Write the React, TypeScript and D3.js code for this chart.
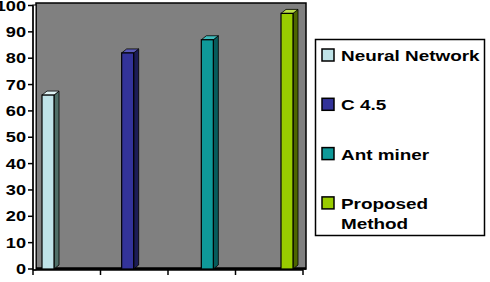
import * as d3 from 'd3';

const series = ['Neural Network', 'C 4.5', 'Ant miner', 'Proposed Method'];
const values = [66, 82, 87, 97];
const fronts = ['#bfe3e8', '#333399', '#0f9999', '#99cc00'];
const sides = ['#4f6f68', '#1c1c55', '#065c5c', '#4d6600'];
const tops = ['#dff3f5', '#5a5ab8', '#3fbcbc', '#bde04a'];
const legendLines = [['Neural Network'], ['C 4.5'], ['Ant miner'], ['Proposed', 'Method']];
const yTicks = [0, 10, 20, 30, 40, 50, 60, 70, 80, 90, 100];

const W = 490;
const H = 282;
const font = 'Liberation Sans, Arial, sans-serif';

export default function App() {
  const y = d3.scaleLinear().domain([0, 100]).range([269, 5.5]);
  const xTick = d3.scaleBand<string>().domain(series).range([33, 303]);
  const xBar = d3.scalePoint<string>().domain(series).range([48, 287]);
  const bw = 12;
  const dx = 5;
  const dy = 4;

  return (
    <svg width={W} height={H} style={{ position: 'fixed', left: 0, top: 0, background: '#fff' }}>
      {/* back wall */}
      <rect x={36} y={3} width={270} height={266} fill="#808080" stroke="#000" strokeWidth={1.5} />
      {/* left side wall */}
      <rect x={33} y={5} width={3} height={265} fill="#fff" stroke="#000" strokeWidth={1} />
      {/* floor */}
      <line x1={36} x2={306} y1={268.5} y2={268.5} stroke="#000" strokeWidth={2.5} />

      {/* bars */}
      {series.map((s, i) => {
        const x0 = (xBar(s) as number) - bw / 2;
        const yt = y(values[i]);
        const yb = y(0);
        return (
          <g key={s}>
            <polygon
              points={`${x0 + bw},${yt} ${x0 + bw + dx},${yt - dy} ${x0 + bw + dx},${yb - dy} ${x0 + bw},${yb}`}
              fill={sides[i]} stroke="#000" strokeWidth={0.8} />
            <polygon
              points={`${x0},${yt} ${x0 + dx},${yt - dy} ${x0 + bw + dx},${yt - dy} ${x0 + bw},${yt}`}
              fill={tops[i]} stroke="#000" strokeWidth={0.8} />
            <rect x={x0} y={yt} width={bw} height={yb - yt} fill={fronts[i]} stroke="#000" strokeWidth={1.2} />
          </g>
        );
      })}

      {/* y axis */}
      <line x1={33} x2={33} y1={y(100)} y2={y(0) + 1} stroke="#000" strokeWidth={1.5} />
      {yTicks.map(t => (
        <g key={t}>
          <line x1={28} x2={33} y1={y(t)} y2={y(t)} stroke="#000" strokeWidth={1.5} />
          <g transform={`translate(26,${y(t) + 5}) scale(1.3,1)`}>
            <text textAnchor="end" fontFamily={font} fontWeight="bold" fontSize={14} fill="#000">{t}</text>
          </g>
        </g>
      ))}

      {/* x axis */}
      <line x1={33} x2={303} y1={270} y2={270} stroke="#000" strokeWidth={1.5} />
      {[...series.map(s => xTick(s) as number), 303].map((t, i) => (
        <line key={i} x1={t} x2={t} y1={270} y2={275} stroke="#000" strokeWidth={1.5} />
      ))}

      {/* legend */}
      <rect x={315.5} y={39.5} width={169} height={196} fill="#fff" stroke="#000" strokeWidth={1.5} />
      {legendLines.map((lines, i) => {
        const cy = 55 + i * 49.3;
        return (
          <g key={i}>
            <rect x={322} y={cy - 6} width={12} height={12} fill={fronts[i]} stroke="#000" strokeWidth={1.5} />
            {lines.map((ln, j) => (
              <g key={j} transform={`translate(341,${cy + 6 + j * 20}) scale(1.22,1)`}>
                <text fontFamily={font} fontWeight="bold" fontSize={15.5} fill="#000">{ln}</text>
              </g>
            ))}
          </g>
        );
      })}
    </svg>
  );
}
